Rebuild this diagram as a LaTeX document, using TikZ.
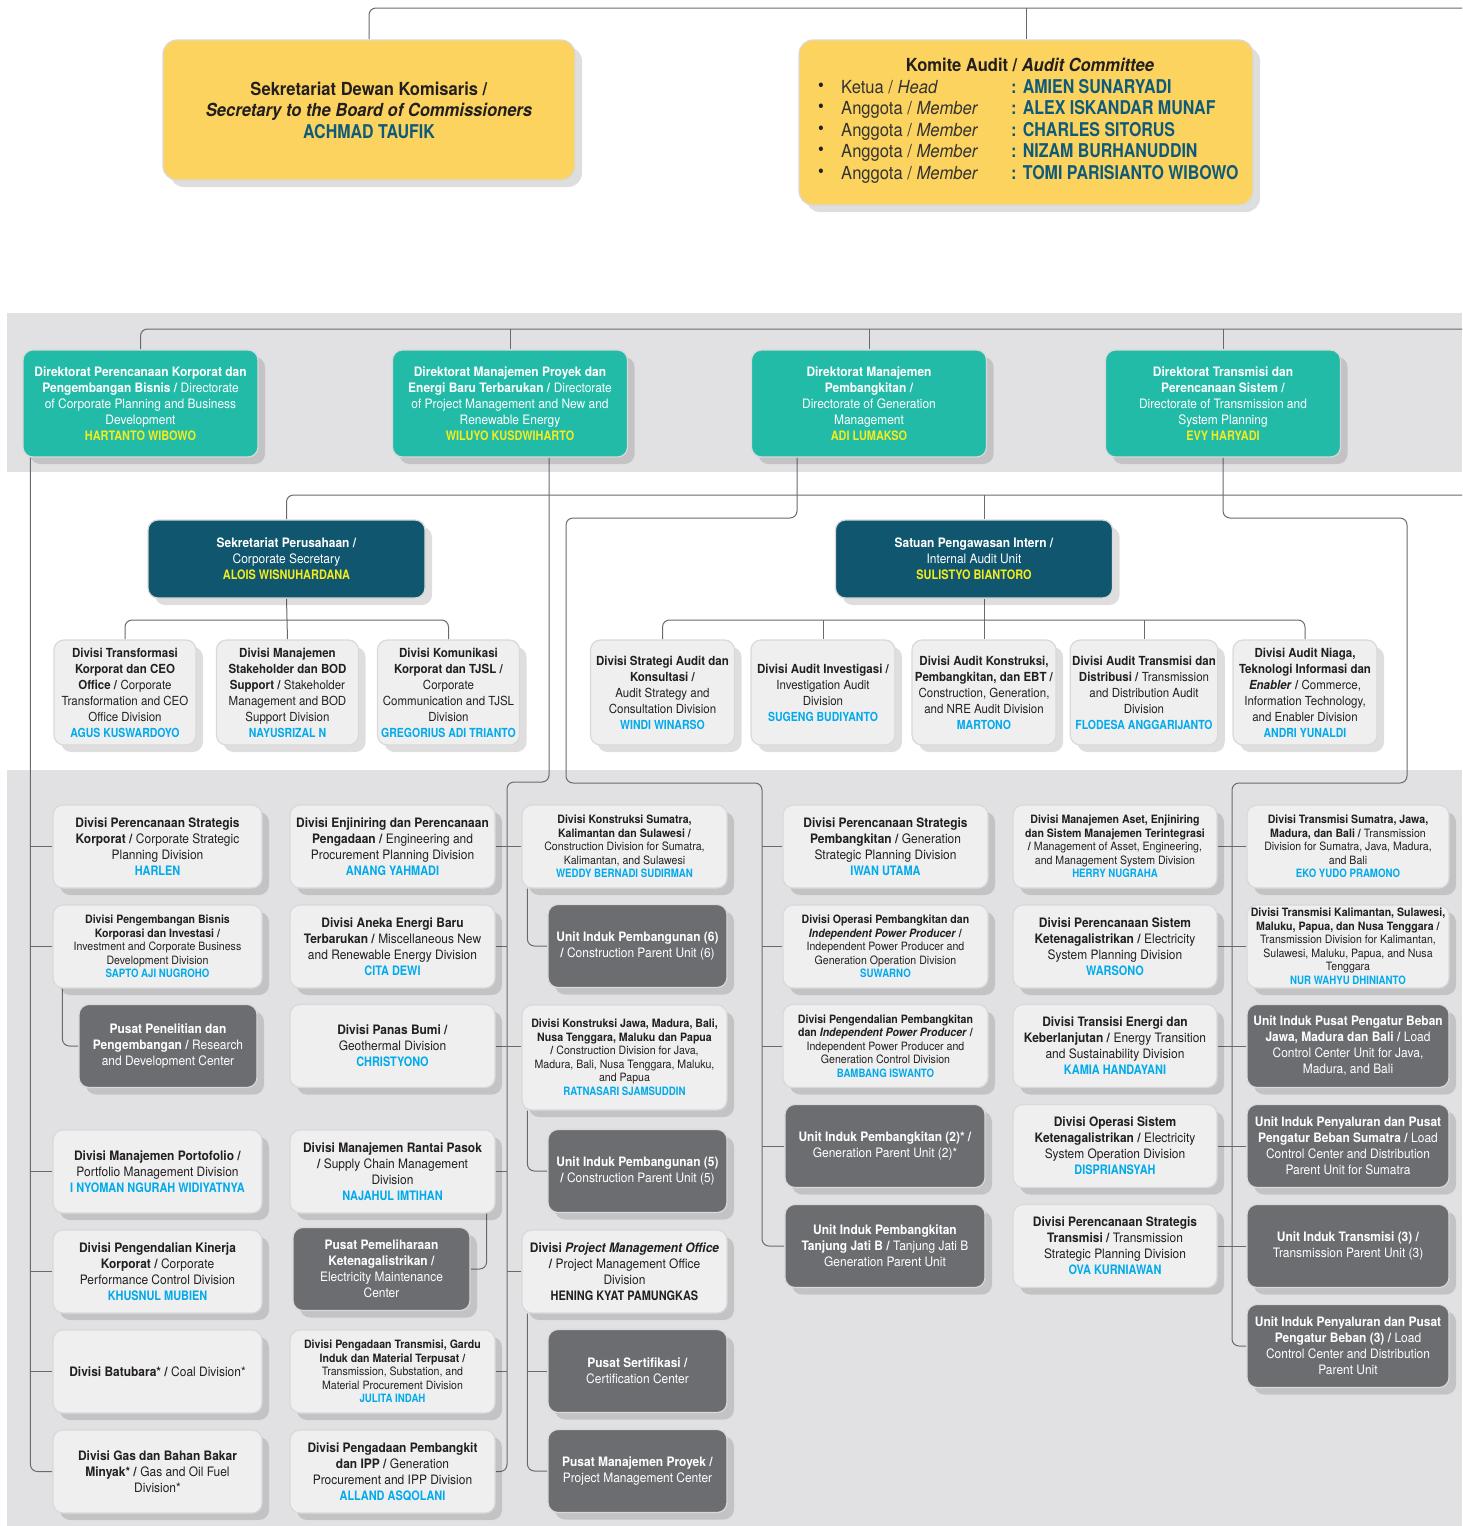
\documentclass[tikz,border=0pt]{standalone}
\usepackage{fontspec}
\setmainfont{TeX Gyre Heros}[FakeStretch=0.92]
\newfontfamily\namefont{TeX Gyre Heros}[FakeStretch=0.84]
\usetikzlibrary{shadows,backgrounds,calc}

\definecolor{boxyellow}{RGB}{251,211,94}
\definecolor{boxteal}{RGB}{34,187,168}
\definecolor{boxnavy}{RGB}{16,86,110}
\definecolor{boxlight}{RGB}{239,239,240}
\definecolor{boxdark}{RGB}{108,109,113}
\definecolor{bandgray}{RGB}{225,225,227}
\definecolor{linegray}{RGB}{105,106,110}
\definecolor{nameblue}{RGB}{0,170,235}
\definecolor{nameyellow}{RGB}{245,236,30}
\definecolor{namenavy}{RGB}{14,90,120}
\definecolor{txtdark}{RGB}{35,31,32}

\newcommand{\bluename}[1]{{\namefont\bfseries\color{nameblue}#1}}
\newcommand{\yelname}[1]{{\namefont\bfseries\color{nameyellow}#1}}
\newcommand{\komname}[1]{{\bfseries\color{namenavy}: {\namefont #1}}}

\begin{document}
\begin{tikzpicture}[x=1pt,y=-1pt,
    every node/.style={align=center, inner sep=2pt},
    orgbox/.style={rounded corners=10pt, draw=black!15, line width=1.2pt,
      drop shadow={shadow xshift=7pt, shadow yshift=-7pt, opacity=.13, fill=black}},
    ybox/.style={orgbox, fill=boxyellow, text=txtdark, rounded corners=14pt, font=\fontsize{18}{21.5}\selectfont},
    dirbox/.style={orgbox, fill=boxteal, text=white, minimum width=235, minimum height=107, font=\fontsize{13}{16}\selectfont},
    headbox/.style={orgbox, fill=boxnavy, text=white, minimum width=277, minimum height=78, font=\fontsize{13}{16}\selectfont},
    subdiv/.style={orgbox, fill=boxlight, text=txtdark, minimum width=144, minimum height=105, font=\fontsize{12.5}{16}\selectfont},
    divbox/.style={orgbox, fill=boxlight, text=txtdark, minimum width=205, minimum height=83, font=\fontsize{13}{16}\selectfont},
    unitbox/.style={orgbox, fill=boxdark, text=white, minimum width=179, minimum height=83, font=\fontsize{13}{16}\selectfont},
    smalltxt/.style={font=\fontsize{11.5}{13.5}\selectfont},
    conn/.style={draw=linegray, line width=1pt},
    trunk/.style={conn, rounded corners=7pt}]
    \useasboundingbox (0,0) rectangle (1462,1526);

    % Board of commissioners level
    \node[ybox, minimum width=412, minimum height=140] (sdk) at (369,110)
      {\textbf{Sekretariat Dewan Komisaris /}\\ \textbf{\textit{Secretary to the Board of Commissioners}}\\ {\namefont\bfseries\color{namenavy}\fontsize{19}{21.5}\selectfont ACHMAD TAUFIK}};
    \node[ybox, minimum width=454, minimum height=165] (kom) at (1026,122.5) {};
    \node[font=\fontsize{18}{21.5}\selectfont\bfseries, text=txtdark] (komt) at (1030,65) {Komite Audit / \textit{Audit Committee}};
    \foreach \yy/\role/\who [count=\k] in {87/{Ketua / \textit{Head}}/AMIEN SUNARYADI,
        108/{Anggota / \textit{Member}}/ALEX ISKANDAR MUNAF,
        130/{Anggota / \textit{Member}}/CHARLES SITORUS,
        151/{Anggota / \textit{Member}}/NIZAM BURHANUDDIN,
        173/{Anggota / \textit{Member}}/TOMI PARISIANTO WIBOWO} {
      \node[font=\fontsize{18}{21.5}\selectfont, text=txtdark] (kb\k) at (821,\yy) {\textbullet};
      \node[font=\fontsize{18}{21.5}\selectfont, text=black!80, anchor=base west] (kr\k) at (839,\yy+6) {\role};
      \node[font=\fontsize{18}{21.5}\selectfont, anchor=base west] (kn\k) at (1009,\yy+6) {\komname{\fontsize{19}{21.5}\selectfont\who}};
    }

    % Directorates
    \node[dirbox] (d1) at (140.5,403.5) {\textbf{Direktorat Perencanaan Korporat dan}\\ \textbf{Pengembangan Bisnis /} Directorate\\ of Corporate Planning and Business\\ Development\\ \yelname{HARTANTO WIBOWO}};
    \node[dirbox] (d2) at (510,403.5) {\textbf{Direktorat Manajemen Proyek dan}\\ \textbf{Energi Baru Terbarukan /} Directorate\\ of Project Management and New and\\ Renewable Energy\\ \yelname{WILUYO KUSDWIHARTO}};
    \node[dirbox] (d3) at (869,403.5) {\textbf{Direktorat Manajemen}\\ \textbf{Pembangkitan /}\\ Directorate of Generation\\ Management\\ \yelname{ADI LUMAKSO}};
    \node[dirbox] (d4) at (1223,403.5) {\textbf{Direktorat Transmisi dan}\\ \textbf{Perencanaan Sistem /}\\ Directorate of Transmission and\\ System Planning\\ \yelname{EVY HARYADI}};

    % Corporate secretary and internal audit
    \node[headbox] (sekper) at (286.5,559) {\textbf{Sekretariat Perusahaan /}\\ Corporate Secretary\\ \yelname{ALOIS WISNUHARDANA}};
    \node[headbox] (spi) at (974,559) {\textbf{Satuan Pengawasan Intern /}\\ Internal Audit Unit\\ \yelname{SULISTYO BIANTORO}};

    \node[subdiv, minimum width=142] (s1) at (125,692.5) {\textbf{Divisi Transformasi}\\ \textbf{Korporat dan CEO}\\ \textbf{Office /} Corporate\\ Transformation and CEO\\ Office Division\\ \bluename{AGUS KUSWARDOYO}};
    \node[subdiv, minimum width=142] (s2) at (287.5,692.5) {\textbf{Divisi Manajemen}\\ \textbf{Stakeholder dan BOD}\\ \textbf{Support /} Stakeholder\\ Management and BOD\\ Support Division\\ \bluename{NAYUSRIZAL N}};
    \node[subdiv, minimum width=142] (s3) at (448.5,692.5) {\textbf{Divisi Komunikasi}\\ \textbf{Korporat dan TJSL /}\\ Corporate\\ Communication and TJSL\\ Division\\ \bluename{GREGORIUS ADI TRIANTO}};

    \node[subdiv] (a1) at (662.5,692.5) {\textbf{Divisi Strategi Audit dan}\\ \textbf{Konsultasi /}\\ Audit Strategy and\\ Consultation Division\\ \bluename{WINDI WINARSO}};
    \node[subdiv] (a2) at (823,692.5) {\textbf{Divisi Audit Investigasi /}\\ Investigation Audit\\ Division\\ \bluename{SUGENG BUDIYANTO}};
    \node[subdiv] (a3) at (984,692.5) {\textbf{Divisi Audit Konstruksi,}\\ \textbf{Pembangkitan, dan EBT /}\\ Construction, Generation,\\ and NRE Audit Division\\ \bluename{MARTONO}};
    \node[subdiv] (a4) at (1144,692.5) {\textbf{Divisi Audit Transmisi dan}\\ \textbf{Distribusi /} Transmission\\ and Distribution Audit\\ Division\\ \bluename{FLODESA ANGGARIJANTO}};
    \node[subdiv] (a5) at (1305,692.5) {\textbf{Divisi Audit Niaga,}\\ \textbf{Teknologi Informasi dan}\\ \textbf{\textit{Enabler} /} Commerce,\\ Information Technology,\\ and Enabler Division\\ \bluename{ANDRI YUNALDI}};

    % Corporate planning column
    \node[divbox, minimum width=209] (l1) at (157.5,846.5) {\textbf{Divisi Perencanaan Strategis}\\ \textbf{Korporat /} Corporate Strategic\\ Planning Division\\ \bluename{HARLEN}};
    \node[divbox, smalltxt, minimum width=209] (l2) at (157.5,946.5) {\textbf{Divisi Pengembangan Bisnis}\\ \textbf{Korporasi dan Investasi /}\\ Investment and Corporate Business\\ Development Division\\ \bluename{SAPTO AJI NUGROHO}};
    \node[unitbox, minimum width=178] (l3) at (168,1046) {\textbf{Pusat Penelitian dan}\\ \textbf{Pengembangan /} Research\\ and Development Center};
    \node[divbox, minimum width=209] (l4) at (157.5,1171.5) {\textbf{Divisi Manajemen Portofolio /}\\ Portfolio Management Division\\ \bluename{I NYOMAN NGURAH WIDIYATNYA}};
    \node[divbox, minimum width=209] (l5) at (157.5,1271.5) {\textbf{Divisi Pengendalian Kinerja}\\ \textbf{Korporat /} Corporate\\ Performance Control Division\\ \bluename{KHUSNUL MUBIEN}};
    \node[divbox, minimum width=209] (l6) at (157.5,1371.5) {\textbf{Divisi Batubara* /} Coal Division*};
    \node[divbox, minimum width=209] (l7) at (157.5,1471.5) {\textbf{Divisi Gas dan Bahan Bakar}\\ \textbf{Minyak* /} Gas and Oil Fuel\\ Division*};

    % Project management column
    \node[divbox] (m1) at (392.5,846.5) {\textbf{Divisi Enjiniring dan Perencanaan}\\ \textbf{Pengadaan /} Engineering and\\ Procurement Planning Division\\ \bluename{ANANG YAHMADI}};
    \node[divbox] (m2) at (392.5,946.5) {\textbf{Divisi Aneka Energi Baru}\\ \textbf{Terbarukan /} Miscellaneous New\\ and Renewable Energy Division\\ \bluename{CITA DEWI}};
    \node[divbox] (m3) at (392.5,1046) {\textbf{Divisi Panas Bumi /}\\ Geothermal Division\\ \bluename{CHRISTYONO}};
    \node[divbox] (m4) at (392.5,1171.5) {\textbf{Divisi Manajemen Rantai Pasok}\\ \textbf{/} Supply Chain Management\\ Division\\ \bluename{NAJAHUL IMTIHAN}};
    \node[unitbox, minimum width=177] (m5) at (381.5,1269) {\textbf{Pusat Pemeliharaan}\\ \textbf{Ketenagalistrikan /}\\ Electricity Maintenance\\ Center};
    \node[divbox, smalltxt] (m6) at (392.5,1371.5) {\textbf{Divisi Pengadaan Transmisi, Gardu}\\ \textbf{Induk dan Material Terpusat /}\\ Transmission, Substation, and\\ Material Procurement Division\\ \bluename{JULITA INDAH}};
    \node[divbox] (m7) at (392.5,1471.5) {\textbf{Divisi Pengadaan Pembangkit}\\ \textbf{dan IPP /} Generation\\ Procurement and IPP Division\\ \bluename{ALLAND ASQOLANI}};

    % Construction column
    \node[divbox, smalltxt] (c1) at (624.5,846.5) {\textbf{Divisi Konstruksi Sumatra,}\\ \textbf{Kalimantan dan Sulawesi /}\\ Construction Division for Sumatra,\\ Kalimantan, and Sulawesi\\ \bluename{WEDDY BERNADI SUDIRMAN}};
    \node[unitbox] (c2) at (637.5,946) {\textbf{Unit Induk Pembangunan (6)}\\ \textbf{/} Construction Parent Unit (6)};
    \node[divbox, smalltxt, minimum height=105] (c3) at (624.5,1057.5) {\textbf{Divisi Konstruksi Jawa, Madura, Bali,}\\ \textbf{Nusa Tenggara, Maluku dan Papua}\\ \textbf{/} Construction Division for Java,\\ Madura, Bali, Nusa Tenggara, Maluku,\\ and Papua\\ \bluename{RATNASARI SJAMSUDDIN}};
    \node[unitbox] (c4) at (637.5,1171) {\textbf{Unit Induk Pembangunan (5)}\\ \textbf{/} Construction Parent Unit (5)};
    \node[divbox] (c5) at (624.5,1271.5) {\textbf{Divisi \textit{Project Management Office}}\\ \textbf{/} Project Management Office\\ Division\\ {\namefont\bfseries HENING KYAT PAMUNGKAS}};
    \node[unitbox] (c6) at (637.5,1371) {\textbf{Pusat Sertifikasi /}\\ Certification Center};
    \node[unitbox] (c7) at (637.5,1471) {\textbf{Pusat Manajemen Proyek /}\\ Project Management Center};

    % Generation column
    \node[divbox] (g1) at (885.5,846.5) {\textbf{Divisi Perencanaan Strategis}\\ \textbf{Pembangkitan /} Generation\\ Strategic Planning Division\\ \bluename{IWAN UTAMA}};
    \node[divbox, smalltxt] (g2) at (885.5,946.5) {\textbf{Divisi Operasi Pembangkitan dan}\\ \textbf{\textit{Independent Power Producer} /}\\ Independent Power Producer and\\ Generation Operation Division\\ \bluename{SUWARNO}};
    \node[divbox, smalltxt] (g3) at (885.5,1046) {\textbf{Divisi Pengendalian Pembangkitan}\\ \textbf{dan \textit{Independent Power Producer} /}\\ Independent Power Producer and\\ Generation Control Division\\ \bluename{BAMBANG ISWANTO}};
    \node[unitbox, minimum width=200] (g4) at (885,1146) {\textbf{Unit Induk Pembangkitan (2)* /}\\ Generation Parent Unit (2)*};
    \node[unitbox, minimum width=200] (g5) at (885,1246) {\textbf{Unit Induk Pembangkitan}\\ \textbf{Tanjung Jati B /} Tanjung Jati B\\ Generation Parent Unit};

    % System planning column
    \node[divbox, smalltxt, minimum width=204] (p1) at (1115,846.5) {\textbf{Divisi Manajemen Aset, Enjiniring}\\ \textbf{dan Sistem Manajemen Terintegrasi}\\ \textbf{/} Management of Asset, Engineering,\\ and Management System Division\\ \bluename{HERRY NUGRAHA}};
    \node[divbox, minimum width=204] (p2) at (1115,946.5) {\textbf{Divisi Perencanaan Sistem}\\ \textbf{Ketenagalistrikan /} Electricity\\ System Planning Division\\ \bluename{WARSONO}};
    \node[divbox, minimum width=204] (p3) at (1115,1046) {\textbf{Divisi Transisi Energi dan}\\ \textbf{Keberlanjutan /} Energy Transition\\ and Sustainability Division\\ \bluename{KAMIA HANDAYANI}};
    \node[divbox, minimum width=204] (p4) at (1115,1146) {\textbf{Divisi Operasi Sistem}\\ \textbf{Ketenagalistrikan /} Electricity\\ System Operation Division\\ \bluename{DISPRIANSYAH}};
    \node[divbox, minimum width=204] (p5) at (1115,1246) {\textbf{Divisi Perencanaan Strategis}\\ \textbf{Transmisi /} Transmission\\ Strategic Planning Division\\ \bluename{OVA KURNIAWAN}};

    % Transmission column
    \node[divbox, smalltxt, minimum width=202] (r1) at (1348,846.5) {\textbf{Divisi Transmisi Sumatra, Jawa,}\\ \textbf{Madura, dan Bali /} Transmission\\ Division for Sumatra, Java, Madura,\\ and Bali\\ \bluename{EKO YUDO PRAMONO}};
    \node[divbox, smalltxt, minimum width=202] (r2) at (1348,946.5) {\textbf{Divisi Transmisi Kalimantan, Sulawesi,}\\ \textbf{Maluku, Papua, dan Nusa Tenggara /}\\ Transmission Division for Kalimantan,\\ Sulawesi, Maluku, Papua, and Nusa\\ Tenggara\\ \bluename{NUR WAHYU DHINIANTO}};
    \node[unitbox, minimum width=202] (r3) at (1348,1046) {\textbf{Unit Induk Pusat Pengatur Beban}\\ \textbf{Jawa, Madura dan Bali /} Load\\ Control Center Unit for Java,\\ Madura, and Bali};
    \node[unitbox, minimum width=202] (r4) at (1348,1146) {\textbf{Unit Induk Penyaluran dan Pusat}\\ \textbf{Pengatur Beban Sumatra /} Load\\ Control Center and Distribution\\ Parent Unit for Sumatra};
    \node[unitbox, minimum width=202] (r5) at (1348,1246) {\textbf{Unit Induk Transmisi (3) /}\\ Transmission Parent Unit (3)};
    \node[unitbox, minimum width=202] (r6) at (1348,1346) {\textbf{Unit Induk Penyaluran dan Pusat}\\ \textbf{Pengatur Beban (3) /} Load\\ Control Center and Distribution\\ Parent Unit};

    % Bands and connectors
    \begin{scope}[on background layer]
      \fill[bandgray] (7,313) rectangle (1462,472);
      \fill[bandgray] (7,770) rectangle (1462,1526);

      \coordinate (topbar) at (1462,8);
      \draw[trunk] (sdk.north) |- (topbar);
      \draw[conn] (kom.north) -- (kom.north |- topbar);

      \coordinate (dirbar) at (1462,329);
      \draw[trunk] (d1.north) |- (dirbar);
      \foreach \n in {d2,d3,d4} \draw[conn] (\n.north) -- (\n.north |- dirbar);

      \coordinate (corpbar) at (1462,495);
      \draw[trunk] (sekper.north) |- (corpbar);
      \draw[conn] (a3.north |- spi.north) -- (a3.north |- corpbar);

      \coordinate (sekbar) at (288,620);
      \draw[trunk] (s1.north) |- (sekbar) -| (s3.north);
      \draw[conn] (sekper.south) -- (s2.north);

      \coordinate (spibar) at (984,620);
      \draw[trunk] (a1.north) |- (spibar) -| (a5.north);
      \draw[conn] (a3.north |- spi.south) -- (a3.north);
      \foreach \n in {a2,a4} \draw[conn] (\n.north) -- (\n.north |- spibar);

      % corporate planning trunk
      \coordinate (tr1) at ([xshift=8pt]d1.south west);
      \draw[trunk] (tr1) |- (l7.west);
      \foreach \n in {l1,l2,l4,l5,l6} \draw[conn] (\n.west) -- (\n.west -| tr1);
      \draw[trunk] ([xshift=10pt]l2.south west) |- (l3.west);

      % project management trunk
      \coordinate (tr2a) at ([xshift=39pt]d2.south);
      \coordinate (tr2) at (507,782);
      \draw[trunk] (tr2a) |- (tr2) |- (m7.east);
      \foreach \n in {m1,m2,m4,m6} \draw[conn] (\n.east) -- (\n.east -| tr2);
      \foreach \n in {c1,c5} \draw[conn] (\n.west) -- (\n.west -| tr2);
      \draw[conn] (m3.east) -- (m3.east -| c3.west);
      \draw[trunk] ([xshift=-9pt]m4.south east) |- (m5.east);
      \draw[trunk] ([xshift=6pt]c1.south west) |- (c2.west);
      \draw[trunk] ([xshift=6pt]c3.south west) |- (c4.west);
      \coordinate (c5s) at ([xshift=6pt]c5.south west);
      \draw[trunk] (c5s) |- (c7.west);
      \draw[conn] (c6.west) -- (c6.west -| c5s);

      % generation trunk
      \coordinate (tr3a) at ([xshift=-72pt]d3.south);
      \coordinate (tr3b) at (566,518);
      \coordinate (tr3) at (762,783);
      \draw[trunk] (tr3a) |- (tr3b) |- (tr3) |- (g5.west);
      \foreach \n in {g1,g2,g3,g4} \draw[conn] (\n.west) -- (\n.west -| tr3);

      % transmission trunk
      \coordinate (tr4b) at (1407,518);
      \coordinate (tr4) at (1232,783);
      \draw[trunk] (d4.south) |- (tr4b) |- (tr4) |- (r6.west);
      \foreach \i in {1,...,5} \draw[conn] (p\i.east) -- (r\i.west);
    \end{scope}
\end{tikzpicture}
\end{document}
